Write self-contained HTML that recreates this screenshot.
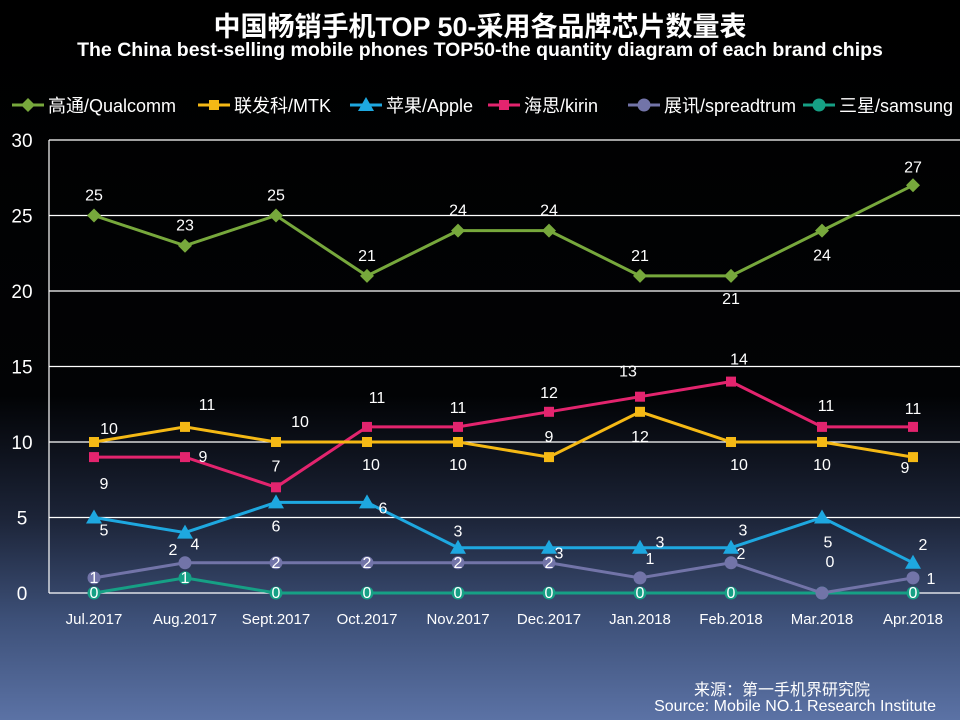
<!DOCTYPE html>
<html><head><meta charset="utf-8">
<style>
html,body{margin:0;padding:0;}
body{width:960px;height:720px;overflow:hidden;background:linear-gradient(180deg,#000 0%,#020305 55%,#1c2438 72%,#3d5078 86%,#5b72a5 100%);font-family:"Liberation Sans","Noto Sans CJK SC",sans-serif;color:#fff;position:relative;}
.t1{position:absolute;top:5px;left:0;width:960px;text-align:center;font-size:27px;font-weight:bold;}
.t2{position:absolute;top:39px;left:0;width:960px;text-align:center;font-size:19.5px;font-weight:bold;}
.src{position:absolute;right:24px;font-size:16px;}
svg{position:absolute;left:0;top:0;}
</style></head><body>
<div class="t1">中国畅销手机TOP 50-采用各品牌芯片数量表</div>
<div class="t2">The China best-selling mobile phones TOP50-the quantity diagram of each brand chips</div>
<svg id="chart" width="960" height="720"></svg>
<div class="src" style="top:676px;right:90px">来源：第一手机界研究院</div>
<div class="src" style="top:698px">Source: Mobile NO.1 Research Institute</div>
<script>
const categories=["Jul.2017","Aug.2017","Sept.2017","Oct.2017","Nov.2017","Dec.2017","Jan.2018","Feb.2018","Mar.2018","Apr.2018"];
const seriesNames=["高通/Qualcomm","联发科/MTK","苹果/Apple","海思/kirin","展讯/spreadtrum","三星/samsung"];
const qualcomm=[25,23,25,21,24,24,21,21,24,27];
const mtk=[10,11,10,10,10,9,12,10,10,9];
const apple=[5,4,6,6,3,3,3,3,5,2];
const kirin=[9,9,7,11,11,12,13,14,11,11];
const spreadtrum=[1,2,2,2,2,2,1,2,0,1];
const samsung=[0,1,0,0,0,0,0,0,0,0];
const yTicks=[0,5,10,15,20,25,30];
const series=[qualcomm,mtk,apple,kirin,spreadtrum,samsung];
const colors=["#77a83c","#f5b915","#1ea8e0","#e3246e","#7274a8","#16a085"];
const shapes=["diamond","square","triangle","square","circle","circle"];
const labelOff=[
 [[0,-15],[0,-15],[0,-15],[0,-15],[0,-15],[0,-15],[0,-15],[0,28],[0,30],[0,-13]],
 [[15,-8],[22,-17],[24,-15],[4,28],[0,28],[0,-15],[0,30],[8,28],[0,28],[-8,16]],
 [[10,18],[10,17],[0,29],[16,11],[0,-11],[10,11],[20,0],[12,-12],[6,30],[10,-13]],
 [[10,32],[18,5],[0,-16],[10,-24],[0,-14],[0,-14],[-12,-20],[8,-17],[4,-16],[0,-13]],
 [[0,5],[-12,-8],[0,5],[0,5],[0,5],[0,5],[10,-14],[10,-4],[8,-26],[18,6]],
 [[0,5],[0,5],[0,5],[0,5],[0,5],[0,5],[0,5],[0,5],[0,5],[0,5]]
];
const X0=94,DX=91,Y0=593,YS=15.1,PL=49,PR=960,PT=140;
const xs=i=>X0+i*DX, ys=v=>Y0-v*YS;
const svg=document.getElementById('chart');
const NS="http://www.w3.org/2000/svg";
function mk(t,a,p){const e=document.createElementNS(NS,t);for(const k in a)e.setAttribute(k,a[k]);(p||svg).appendChild(e);return e;}
yTicks.forEach(v=>{
 const l=mk('line',{x1:PL,x2:PR,y1:ys(v),y2:ys(v),stroke:'#fff','stroke-width':1.2});
 
 
 const t=mk('text',{x:22,y:ys(v)+7,'text-anchor':'middle','font-size':19,fill:'#fff','font-family':'Liberation Sans'});
 t.textContent=v;
 
 
});
const ax=mk('line',{x1:PL,x2:PL,y1:PT,y2:Y0,stroke:'#fff','stroke-width':1.2});


categories.forEach((c,i)=>{
 const t=mk('text',{x:xs(i),y:624,'text-anchor':'middle','font-size':15,fill:'#fff'});
 t.textContent=c;
 
 
});
function marker(shape,x,y,c,g){
 let e;
 if(shape==='diamond')e=mk('polygon',{points:`${x},${y-7} ${x+7},${y} ${x},${y+7} ${x-7},${y}`,fill:c},g);
 else if(shape==='square')e=mk('rect',{x:x-5,y:y-5,width:10,height:10,fill:c},g);
 else if(shape==='triangle')e=mk('polygon',{points:`${x},${y-8} ${x+8},${y+6} ${x-8},${y+6}`,fill:c},g);
 else e=mk('circle',{cx:x,cy:y,r:6.5,fill:c},g);
 return e;
}
for(let s=series.length-1;s>=0;s--){
 const g=mk('g',{});
 
 
 const d=series[s];
 const pl=mk('polyline',{points:d.map((v,i)=>xs(i)+','+ys(v)).join(' '),fill:'none',stroke:colors[s],'stroke-width':3},g);
 
 
 d.forEach((v,i)=>{
  const m=marker(shapes[s],xs(i),ys(v),colors[s],g);
  
  
  const o=labelOff[s][i];
  const t=mk('text',{x:xs(i)+o[0],y:ys(v)+o[1],'text-anchor':'middle','font-size':16,fill:'#fff'},g);
  t.textContent=v;
  
  
 });
}
const legX=[12,198,350,488,628,803];
seriesNames.forEach((n,s)=>{
 const g=mk('g',{});
 
 
 const x=legX[s],y=105;
 mk('line',{x1:x,x2:x+32,y1:y,y2:y,stroke:colors[s],'stroke-width':3},g);
 marker(shapes[s],x+16,y,colors[s],g);
 const t=mk('text',{x:x+36,y:y+7,'font-size':18,fill:'#fff'},g);
 t.textContent=n;
});
</script>
</body></html>
